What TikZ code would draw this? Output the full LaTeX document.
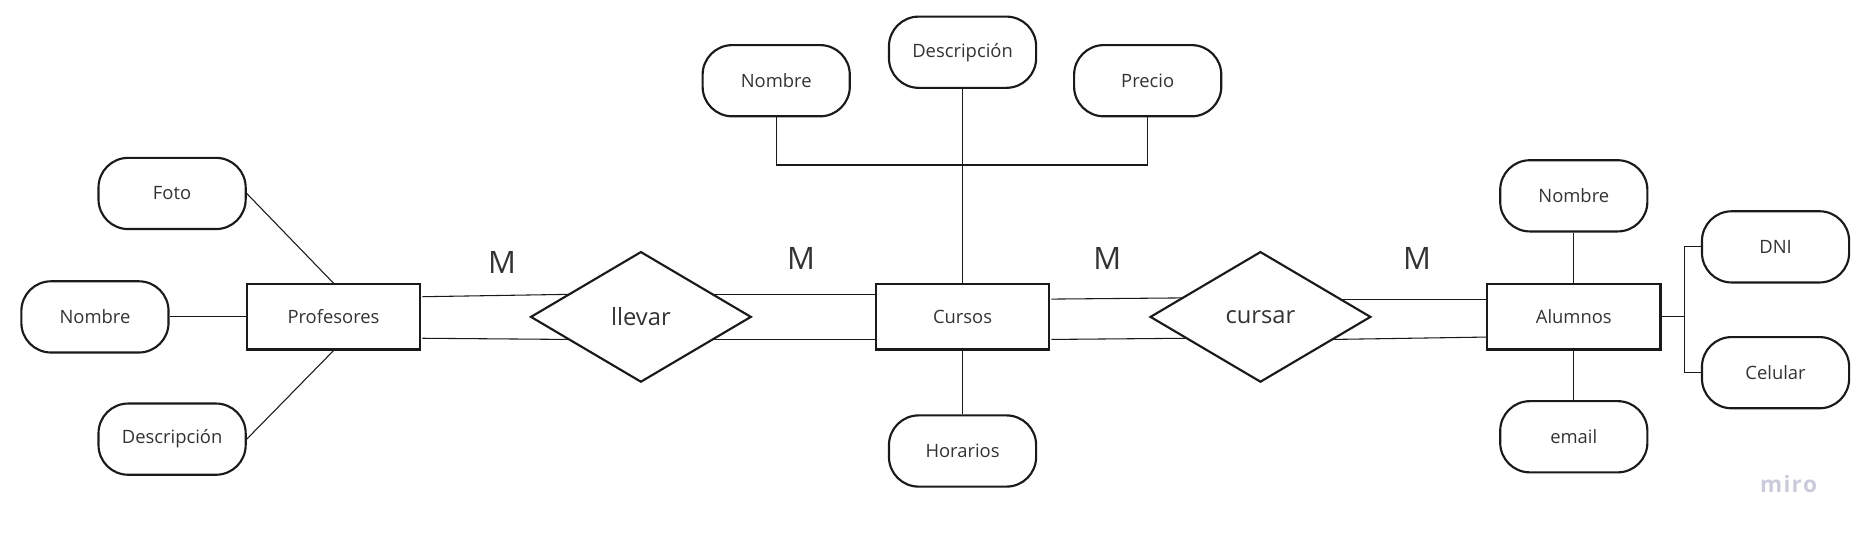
\documentclass[tikz,border=0pt]{standalone}
\usepackage{fontspec}
\setmainfont{Open Sans}
\usetikzlibrary{shapes.geometric,calc}
\definecolor{txt}{HTML}{333333}
\definecolor{ln}{HTML}{1A1A1A}
\definecolor{miroc}{HTML}{CACBDA}
\begin{document}
\begin{tikzpicture}[x=1pt,y=-1pt,
  entity/.style={draw=ln, line width=1.8pt, minimum width=146pt, minimum height=55pt, inner sep=0pt, text=txt, font=\fontsize{15.5}{18}\selectfont},
  attr/.style={draw=ln, line width=1.8pt, rounded corners=25pt, minimum width=124pt, minimum height=60pt, inner sep=0pt, text=txt, font=\fontsize{15.5}{18}\selectfont},
  rel/.style={diamond, draw=ln, line width=1.8pt, minimum width=186pt, minimum height=110pt, inner sep=0pt, text=txt, font=\fontsize{20}{24}\selectfont},
  card/.style={text=txt, font=\fontsize{26}{30}\selectfont},
  conn/.style={draw=ln, line width=0.9pt}]
\useasboundingbox (0,0) rectangle (1568,452);
% entities
\node[entity] (prof) at (281,267) {Profesores};
\node[entity] (cur) at (811,267) {Cursos};
\node[entity] (alu) at (1326,267) {Alumnos};
% relationships
\node[rel] (llevar) at (540,267) {llevar};
\node[rel] (cursar) at (1062,267) {cursar};
% attributes Profesores
\node[attr] (pfoto) at (145,163) {Foto};
\node[attr] (pnom) at (80,267) {Nombre};
\node[attr] (pdesc) at (145,370) {Descripción};
% attributes Cursos
\node[attr] (cnom) at (654,68) {Nombre};
\node[attr] (cdesc) at (811,44) {Descripción};
\node[attr] (cpre) at (967,68) {Precio};
\node[attr] (chor) at (811,380) {Horarios};
% attributes Alumnos
\node[attr] (anom) at (1326,165) {Nombre};
\node[attr] (aemail) at (1326,368) {email};
\node[attr] (adni) at (1496,208) {DNI};
\node[attr] (acel) at (1496,314) {Celular};
% cardinalities
\node[card] (m1) at (423,221) {M};
\node[card] (m2) at (675,218) {M};
\node[card] (m3) at (933,218) {M};
\node[card] (m4) at (1194,218) {M};
% Profesores connectors
\draw[conn] (pfoto.east) -- (prof.north);
\draw[conn] (pnom.east) -- (prof.west);
\draw[conn] (pdesc.east) -- (prof.south);
% Cursos connectors
\coordinate (bus) at (811,139);
\draw[conn] (cdesc.south) -- (cur.north);
\draw[conn] (cnom.south) |- (bus) -| (cpre.south);
\draw[conn] (chor.north) -- (cur.south);
% Alumnos connectors
\draw[conn] (anom.south) -- (alu.north);
\draw[conn] (aemail.north) -- (alu.south);
\coordinate (br) at ($(alu.east)+(19,0)$);
\draw[conn] (alu.east) -- (br);
\draw[conn] (adni.west) -| (br) |- (acel.west);
% double lines
\draw[conn] ($(prof.east)+(1,-17)$) -- ($(llevar.center)+(-60.9,-19)$);
\draw[conn] ($(prof.east)+(1,18)$) -- ($(llevar.center)+(-60.9,19)$);
\draw[conn] ($(llevar.center)+(60.9,-19)$) -- ($(cur.west)+(0,-19)$);
\draw[conn] ($(llevar.center)+(60.9,19)$) -- ($(cur.west)+(0,19)$);
\draw[conn] ($(cur.east)+(1,-15)$) -- ($(cursar.center)+(-66.2,-16)$);
\draw[conn] ($(cur.east)+(1,19)$) -- ($(cursar.center)+(-62.6,18)$);
\draw[conn] ($(cursar.center)+(67.6,-15)$) -- ($(alu.west)+(0,-15)$);
\draw[conn] ($(cursar.center)+(60.9,19)$) -- ($(alu.west)+(0,17)$);
% watermark
\node[text=miroc, font=\fontsize{19}{22}\selectfont\bfseries] (miro) at (1507,408) {m\kern1pt i\kern1pt r\kern1pt o};
\end{tikzpicture}
\end{document}
